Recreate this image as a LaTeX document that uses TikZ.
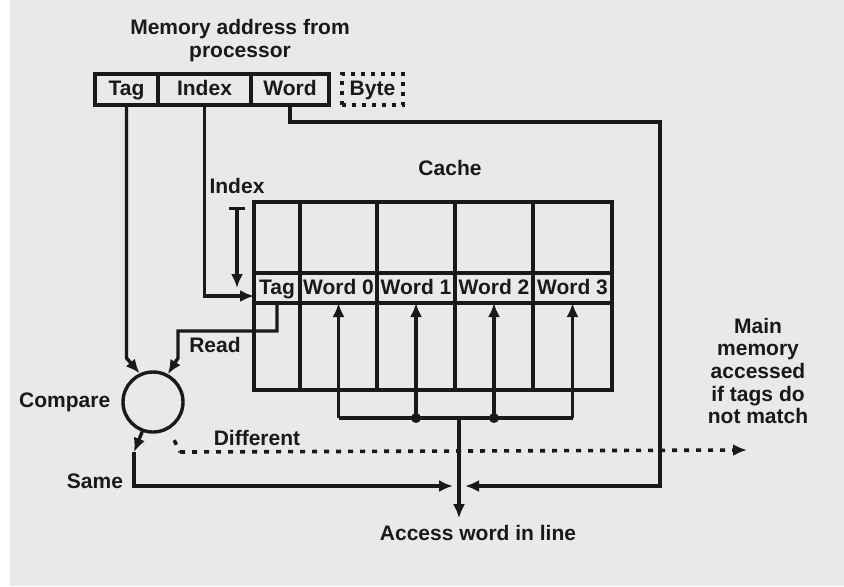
\documentclass[tikz,border=0pt]{standalone}
\usepackage{fontspec}
\setmainfont{Liberation Sans}
\usetikzlibrary{arrows.meta,positioning}
\definecolor{ink}  {RGB}{25, 25, 25}
\definecolor{paper}{RGB}{233,233,231}

\begin{document}
\begin{tikzpicture}[x=0.5pt,y=-0.5pt,color=ink,
          font=\fontsize{10.5}{11.5}\selectfont\bfseries,
          ln/.style={draw=ink,line width=1.7pt},
          tip/.style={-{Latex[length=7pt,width=6pt]}},
          field/.style={ln,minimum height=15.5pt,inner sep=1pt,outer sep=0pt,
                        text height=1.6ex,text depth=0.45ex},
          cell/.style={ln,minimum height=15pt,inner sep=0.5pt,outer sep=0pt,
                       text height=1.6ex,text depth=0.45ex}]
          % page
          \fill[paper] (0,0) rectangle (844,586);
          \fill[white] (0,0) rectangle (10,586);
          % address from processor
          \node[align=center] (mem) at (240,41) {Memory address from\\processor};
          \node[field,minimum width=31.5pt] (tagA) at (126.5,89.5) {Tag};
          \node[field,minimum width=46.5pt,right=0pt of tagA] (indexA) {Index};
          \node[field,minimum width=39pt,right=0pt of indexA] (wordA) {Word};
          \node[field,minimum width=30.5pt,right=6.5pt of wordA,dash pattern=on 2pt off 3pt] (byteA) {Byte};
          % cache
          \node (cachelbl) at (450,168) {Cache};
          \node[ln,minimum width=179pt,minimum height=94pt,outer sep=0pt] (cache) at (433,296) {};
          \node[cell,minimum width=23pt] (ctag) at (277,288) {Tag};
          \node[cell,minimum width=38.5pt,right=0pt of ctag] (cw0) {Word 0};
          \node[cell,minimum width=39pt,right=0pt of cw0] (cw1) {Word 1};
          \node[cell,minimum width=39pt,right=0pt of cw1] (cw2) {Word 2};
          \node[cell,minimum width=39.5pt,right=0pt of cw2] (cw3) {Word 3};
          \draw[ln] (ctag.east |- cache.north) -- (ctag.east |- cache.south)
                    (cw0.east |- cache.north) -- (cw0.east |- cache.south)
                    (cw1.east |- cache.north) -- (cw1.east |- cache.south)
                    (cw2.east |- cache.north) -- (cw2.east |- cache.south);
          % index selects the line
          \node (indexlbl) at (237,186) {Index};
          \coordinate (ix) at (237,207);
          \draw[ln,{Bar[width=8pt]}-{Latex[length=7pt,width=6pt]}] (ix) -- (ix |- ctag.west);
          \draw[ln,tip] (indexA.south) |- ([yshift=-4pt]ctag.west);
          % compare
          \node[ln,circle,minimum size=30pt,inner sep=0pt] (cmp) at (153,402) {};
          \node[left=2pt of cmp] (cmplbl) {Compare};
          \draw[ln,tip] (tagA.south) -- (tagA.south |- 0,358) -- (cmp.115);
          \coordinate (rd) at (178,331);
          \draw[ln,tip] (ctag.south) |- (rd) -- ++(0,27) -- (cmp.62);
          \node (readlbl) at (215,345) {Read};
          % word bus
          \coordinate (bus) at (459,418);
          \coordinate (jn) at (459,486);
          \draw[ln] (cw0.south |- bus) -- (cw3.south |- bus);
          \draw[ln,tip] (cw0.south |- bus) -- (cw0.south);
          \draw[ln,tip] (cw1.south |- bus) -- (cw1.south);
          \draw[ln,tip] (cw2.south |- bus) -- (cw2.south);
          \draw[ln,tip] (cw3.south |- bus) -- (cw3.south);
          \fill (cw1.south |- bus) circle (2.5pt);
          \fill (cw2.south |- bus) circle (2.5pt);
          \node (acc) at (478,533) {Access word in line};
          \draw[ln,tip] (bus) -- (bus |- acc.north);
          % same / different
          \coordinate (sm) at (134,452);
          \draw[ln,tip] (cmp.250) -- (sm);
          \draw[ln,tip,shorten >=3pt] (sm) |- (jn);
          \node (samelbl) at (95,481) {Same};
          \coordinate (rt) at (660,122);
          \draw[ln,tip,shorten >=3pt] (wordA.south) |- (rt) -- (rt |- jn) -- (jn);
          \coordinate (df) at (180,452);
          \coordinate (dend) at (747,450);
          \draw[ln,line width=1.8pt,dash pattern=on 2.5pt off 3.5pt,shorten <=6pt] (cmp.300) -- (df);
          \draw[ln,line width=1.8pt,dash pattern=on 2.5pt off 3.5pt,tip] (df) -- (dend);
          \node (difflbl) at (257,438) {Different};
          \node[align=center,font=\fontsize{10.5}{11.3}\selectfont\bfseries] (mainmem) at (758,371)
               {Main\\memory\\accessed\\if tags do\\not match};
        \end{tikzpicture}
\end{document}
